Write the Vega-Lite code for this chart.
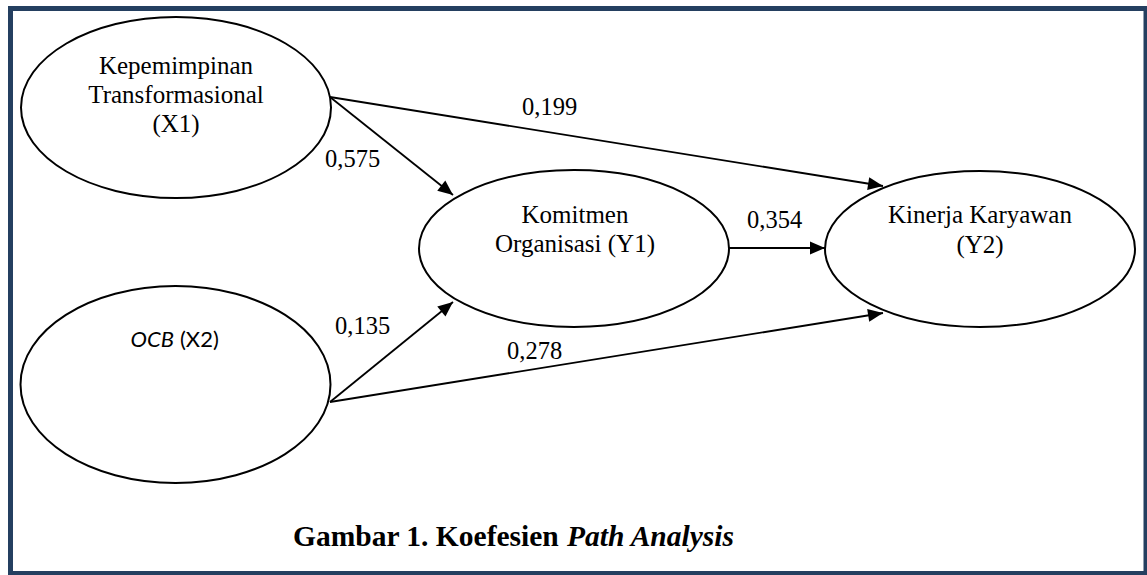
{
  "$schema": "https://vega.github.io/schema/vega-lite/v6.json",
  "width": 1147,
  "height": 575,
  "autosize": {"type": "fit", "contains": "padding"},
  "padding": {"left": 10.5, "top": 8.5, "right": 1, "bottom": 1.5},
  "background": "white",
  "config": {"view": {"stroke": "#243f60", "strokeWidth": 5}},
  "datasets": {
    "nodes": [
      {"node": "X1", "x": 176, "y": 107.5},
      {"node": "X2", "x": 175.5, "y": 384.5},
      {"node": "Y1", "x": 574, "y": 248.5},
      {"node": "Y2", "x": 980, "y": 249}
    ],
    "nodelabels": [
      {"text": "Kepemimpinan", "x": 176, "y": 74},
      {"text": "Transformasional", "x": 176, "y": 103},
      {"text": "(X1)", "x": 176, "y": 132},
      {"text": "Komitmen", "x": 575, "y": 223},
      {"text": "Organisasi (Y1)", "x": 575, "y": 252},
      {"text": "Kinerja Karyawan", "x": 980, "y": 223},
      {"text": "(Y2)", "x": 980, "y": 253}
    ],
    "ocb": [
      {"text": "OCB", "part": "italic", "x": 174, "y": 347},
      {"text": "(X2)", "part": "normal", "x": 180, "y": 347}
    ],
    "edges": [
      {"from": "X1", "to": "Y1", "coef": "0,575", "sx": 330, "sy": 97, "ex": 453, "ey": 195, "lx": 325, "ly": 167},
      {"from": "X1", "to": "Y2", "coef": "0,199", "sx": 330, "sy": 97, "ex": 883, "ey": 186, "lx": 522, "ly": 115},
      {"from": "X2", "to": "Y1", "coef": "0,135", "sx": 330, "sy": 402, "ex": 453, "ey": 302, "lx": 335, "ly": 334},
      {"from": "X2", "to": "Y2", "coef": "0,278", "sx": 330, "sy": 402, "ex": 883, "ey": 313, "lx": 507, "ly": 359},
      {"from": "Y1", "to": "Y2", "coef": "0,354", "sx": 728, "sy": 248, "ex": 825, "ey": 248, "lx": 747, "ly": 228}
    ],
    "caption": [
      {"text": "Gambar 1. Koefesien", "part": "normal", "x": 293, "y": 546},
      {"text": "Path Analysis", "part": "italic", "x": 567, "y": 546}
    ]
  },
  "layer": [
    {
      "data": {"name": "nodes"},
      "mark": {"type": "point", "filled": false, "stroke": "black", "strokeWidth": 2, "opacity": 1, "size": 96100},
      "encoding": {
        "x": {"field": "x", "type": "quantitative", "scale": {"domain": [10.5, 1146], "nice": false, "zero": false}, "axis": null},
        "y": {"field": "y", "type": "quantitative", "scale": {"domain": [8.5, 573.5], "nice": false, "zero": false, "reverse": true}, "axis": null},
        "shape": {
          "field": "node", "type": "nominal", "legend": null,
          "scale": {
            "domain": ["X1", "X2", "Y1", "Y2"],
            "range": [
              "M -1 0 C -1 -0.3225 -0.5523 -0.584 0 -0.584 C 0.5523 -0.584 1 -0.3225 1 0 C 1 0.3225 0.5523 0.584 0 0.584 C -0.5523 0.584 -1 0.3225 -1 0 Z",
              "M -1 0 C -1 -0.3507 -0.5523 -0.635 0 -0.635 C 0.5523 -0.635 1 -0.3507 1 0 C 1 0.3507 0.5523 0.635 0 0.635 C -0.5523 0.635 -1 0.3507 -1 0 Z",
              "M -1 0 C -1 -0.2795 -0.5523 -0.506 0 -0.506 C 0.5523 -0.506 1 -0.2795 1 0 C 1 0.2795 0.5523 0.506 0 0.506 C -0.5523 0.506 -1 0.2795 -1 0 Z",
              "M -1 0 C -1 -0.2778 -0.5523 -0.503 0 -0.503 C 0.5523 -0.503 1 -0.2778 1 0 C 1 0.2778 0.5523 0.503 0 0.503 C -0.5523 0.503 -1 0.2778 -1 0 Z"
            ]
          }
        }
      }
    },
    {
      "data": {"name": "edges"},
      "mark": {"type": "rule", "color": "black", "strokeWidth": 1.8},
      "encoding": {
        "x": {"field": "sx", "type": "quantitative", "scale": {"domain": [10.5, 1146], "nice": false, "zero": false}, "axis": null},
        "y": {"field": "sy", "type": "quantitative", "scale": {"domain": [8.5, 573.5], "nice": false, "zero": false, "reverse": true}, "axis": null},
        "x2": {"field": "ex"},
        "y2": {"field": "ey"}
      }
    },
    {
      "data": {"name": "edges"},
      "transform": [
        {"calculate": "atan2(datum.ex - datum.sx, datum.sy - datum.ey) * 180 / PI", "as": "ang"}
      ],
      "mark": {"type": "point", "filled": true, "color": "black", "opacity": 1, "strokeWidth": 0, "size": 900, "shape": "M 0 0 L -0.433 1 L 0.433 1 Z"},
      "encoding": {
        "x": {"field": "ex", "type": "quantitative", "scale": {"domain": [10.5, 1146], "nice": false, "zero": false}, "axis": null},
        "y": {"field": "ey", "type": "quantitative", "scale": {"domain": [8.5, 573.5], "nice": false, "zero": false, "reverse": true}, "axis": null},
        "angle": {"field": "ang", "type": "quantitative", "scale": null}
      }
    },
    {
      "data": {"name": "edges"},
      "mark": {"type": "text", "font": "Liberation Serif", "fontSize": 24.5, "color": "black", "align": "left", "baseline": "alphabetic"},
      "encoding": {
        "x": {"field": "lx", "type": "quantitative", "scale": {"domain": [10.5, 1146], "nice": false, "zero": false}, "axis": null},
        "y": {"field": "ly", "type": "quantitative", "scale": {"domain": [8.5, 573.5], "nice": false, "zero": false, "reverse": true}, "axis": null},
        "text": {"field": "coef"}
      }
    },
    {
      "data": {"name": "nodelabels"},
      "mark": {"type": "text", "font": "Liberation Serif", "fontSize": 25, "color": "black", "align": "center", "baseline": "alphabetic"},
      "encoding": {
        "x": {"field": "x", "type": "quantitative", "scale": {"domain": [10.5, 1146], "nice": false, "zero": false}, "axis": null},
        "y": {"field": "y", "type": "quantitative", "scale": {"domain": [8.5, 573.5], "nice": false, "zero": false, "reverse": true}, "axis": null},
        "text": {"field": "text"}
      }
    },
    {
      "data": {"name": "ocb"},
      "transform": [{"filter": "datum.part === 'italic'"}],
      "mark": {"type": "text", "font": "Lato", "fontSize": 22, "fontStyle": "italic", "color": "black", "align": "right", "baseline": "alphabetic"},
      "encoding": {
        "x": {"field": "x", "type": "quantitative", "scale": {"domain": [10.5, 1146], "nice": false, "zero": false}, "axis": null},
        "y": {"field": "y", "type": "quantitative", "scale": {"domain": [8.5, 573.5], "nice": false, "zero": false, "reverse": true}, "axis": null},
        "text": {"field": "text"}
      }
    },
    {
      "data": {"name": "ocb"},
      "transform": [{"filter": "datum.part === 'normal'"}],
      "mark": {"type": "text", "font": "Lato", "fontSize": 22, "color": "black", "align": "left", "baseline": "alphabetic"},
      "encoding": {
        "x": {"field": "x", "type": "quantitative", "scale": {"domain": [10.5, 1146], "nice": false, "zero": false}, "axis": null},
        "y": {"field": "y", "type": "quantitative", "scale": {"domain": [8.5, 573.5], "nice": false, "zero": false, "reverse": true}, "axis": null},
        "text": {"field": "text"}
      }
    },
    {
      "data": {"name": "caption"},
      "transform": [{"filter": "datum.part === 'normal'"}],
      "mark": {"type": "text", "font": "Liberation Serif", "fontSize": 29.5, "fontWeight": "bold", "color": "black", "align": "left", "baseline": "alphabetic"},
      "encoding": {
        "x": {"field": "x", "type": "quantitative", "scale": {"domain": [10.5, 1146], "nice": false, "zero": false}, "axis": null},
        "y": {"field": "y", "type": "quantitative", "scale": {"domain": [8.5, 573.5], "nice": false, "zero": false, "reverse": true}, "axis": null},
        "text": {"field": "text"}
      }
    },
    {
      "data": {"name": "caption"},
      "transform": [{"filter": "datum.part === 'italic'"}],
      "mark": {"type": "text", "font": "Liberation Serif", "fontSize": 29.5, "fontWeight": "bold", "fontStyle": "italic", "color": "black", "align": "left", "baseline": "alphabetic"},
      "encoding": {
        "x": {"field": "x", "type": "quantitative", "scale": {"domain": [10.5, 1146], "nice": false, "zero": false}, "axis": null},
        "y": {"field": "y", "type": "quantitative", "scale": {"domain": [8.5, 573.5], "nice": false, "zero": false, "reverse": true}, "axis": null},
        "text": {"field": "text"}
      }
    }
  ]
}
